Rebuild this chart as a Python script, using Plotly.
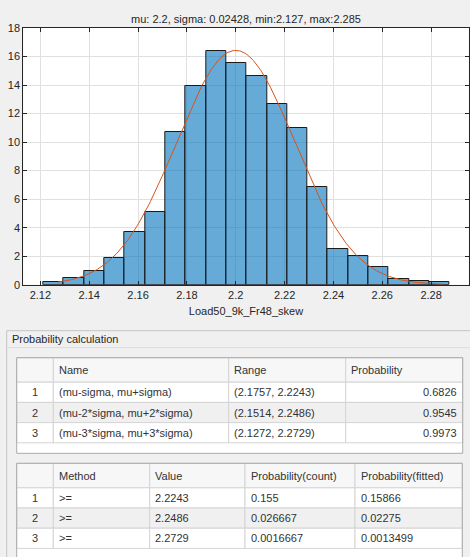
import numpy as np
import plotly.graph_objects as go

# ---------------- data ----------------
title_text = "mu: 2.2, sigma: 0.02428, min:2.127, max:2.285"
x_label = "Load50_9k_Fr48_skew"
mu = 2.2
sigma = 0.02428
data_min = 2.127
data_max = 2.285
bin_start = 2.1212
bin_width = 0.00832
density = [0.21, 0.47, 0.93, 1.87, 3.67, 5.10, 10.69, 13.91, 16.41, 15.53,
           14.61, 12.67, 10.97, 6.83, 2.52, 2.04, 1.26, 0.42, 0.26, 0.21]
x_ticks = [2.12, 2.14, 2.16, 2.18, 2.20, 2.22, 2.24, 2.26, 2.28]
x_ticklabels = ["2.12", "2.14", "2.16", "2.18", "2.2", "2.22", "2.24", "2.26", "2.28"]
y_ticks = [0, 2, 4, 6, 8, 10, 12, 14, 16, 18]

panel_title = "Probability calculation"
t1_header = ["", "Name", "Range", "Probability"]
t1_index = ["1", "2", "3"]
t1_names = ["(mu-sigma, mu+sigma)", "(mu-2*sigma, mu+2*sigma)", "(mu-3*sigma, mu+3*sigma)"]
t1_ranges = ["(2.1757, 2.2243)", "(2.1514, 2.2486)", "(2.1272, 2.2729)"]
t1_probs = ["0.6826", "0.9545", "0.9973"]

t2_header = ["", "Method", "Value", "Probability(count)", "Probability(fitted)"]
t2_index = ["1", "2", "3"]
t2_methods = [">=", ">=", ">="]
t2_values = ["2.2243", "2.2486", "2.2729"]
t2_pcount = ["0.155", "0.026667", "0.0016667"]
t2_pfit = ["0.15866", "0.02275", "0.0013499"]

# ---------------- layout helpers ----------------
W, H = 470, 557
def px(x):
    return x / W
def py(y):
    return 1 - y / H

FONT = "Liberation Sans, Arial, Helvetica, sans-serif"
TXT = "#262626"
CELL_TXT = "#333333"

bin_centers = [bin_start + bin_width * (i + 0.5) for i in range(len(density))]
xf = np.linspace(data_min, data_max, 300)
yf = np.exp(-0.5 * ((xf - mu) / sigma) ** 2) / (sigma * np.sqrt(2 * np.pi))

fig = go.Figure()
fig.add_trace(go.Bar(
    x=bin_centers, y=density, width=bin_width,
    marker=dict(color="rgba(0,114,189,0.6)", line=dict(color="#1a1a1a", width=1)),
    showlegend=False, hoverinfo="x+y",
))
fig.add_trace(go.Scatter(
    x=xf, y=yf, mode="lines", line=dict(color="#D95319", width=1),
    showlegend=False,
))

shapes = [
    # panel
    dict(type="rect", xref="paper", yref="paper", x0=px(6.7), x1=px(480), y0=py(570), y1=py(330.7),
         line=dict(color="#c4c4c4", width=1), fillcolor="#f0f0f0", layer="below"),
    dict(type="line", xref="paper", yref="paper", x0=px(6.7), x1=px(480), y0=py(347.7), y1=py(347.7),
         line=dict(color="#dcdcdc", width=1), layer="below"),
]
annotations = [
    dict(text=panel_title, xref="paper", yref="paper", x=px(9.5), y=py(339.3),
         xanchor="left", yanchor="middle", showarrow=False,
         font=dict(family=FONT, size=11, color=TXT)),
]

ROW_FILL = ["#ffffff", "#f0f0f0", "#ffffff"]
GRID = "#d4d4d4"
OUTER = "#ababab"


def draw_table(left, top, bottom, col_widths, header, columns, aligns,
               header_h=24.5, row_h=20.2):
    right = left + sum(col_widths)
    # white table body with outer border
    shapes.append(dict(type="rect", xref="paper", yref="paper",
                       x0=px(left), x1=px(right), y0=py(bottom), y1=py(top),
                       line=dict(width=0), fillcolor="#ffffff", layer="below"))
    xs = [left]
    for w in col_widths:
        xs.append(xs[-1] + w)
    # header
    for j, h in enumerate(header):
        shapes.append(dict(type="rect", xref="paper", yref="paper",
                           x0=px(xs[j]), x1=px(xs[j + 1]), y0=py(top + header_h), y1=py(top),
                           line=dict(color=GRID, width=1), fillcolor="#f7f7f7", layer="below"))
        if h:
            annotations.append(dict(text=h, xref="paper", yref="paper",
                                    x=px(xs[j] + 3.5), y=py(top + header_h / 2),
                                    xanchor="left", yanchor="middle", showarrow=False,
                                    font=dict(family=FONT, size=11, color=CELL_TXT)))
    # body
    n_rows = len(columns[0])
    for i in range(n_rows):
        y0 = top + header_h + i * row_h
        for j, col in enumerate(columns):
            shapes.append(dict(type="rect", xref="paper", yref="paper",
                               x0=px(xs[j]), x1=px(xs[j + 1]), y0=py(y0 + row_h), y1=py(y0),
                               line=dict(color=GRID, width=1), fillcolor=ROW_FILL[i % 3],
                               layer="below"))
            a = aligns[j]
            if a == "center":
                xt = (xs[j] + xs[j + 1]) / 2
            elif a == "right":
                xt = xs[j + 1] - 3.5
            else:
                xt = xs[j] + 3.5
            annotations.append(dict(text=col[i].replace(">", "&gt;"), xref="paper", yref="paper",
                                    x=px(xt), y=py(y0 + row_h / 2),
                                    xanchor=a, yanchor="middle", showarrow=False,
                                    font=dict(family=FONT, size=11, color=CELL_TXT)))
    # outer border
    shapes.append(dict(type="rect", xref="paper", yref="paper",
                       x0=px(left), x1=px(right), y0=py(bottom), y1=py(top),
                       line=dict(color=OUTER, width=1), fillcolor="rgba(0,0,0,0)", layer="below"))


draw_table(16.7, 357.7, 453.3, [36.6, 175.4, 117, 117], t1_header,
           [t1_index, t1_names, t1_ranges, t1_probs],
           ["center", "left", "left", "right"])
draw_table(16.7, 463.3, 570, [36.6, 96.4, 95.3, 110, 107.3], t2_header,
           [t2_index, t2_methods, t2_values, t2_pcount, t2_pfit],
           ["center", "left", "left", "left", "left"])

fig.update_layout(
    template="none",
    width=W, height=H,
    margin=dict(l=0, r=0, t=0, b=0, pad=0),
    paper_bgcolor="#f0f0f0", plot_bgcolor="#ffffff",
    font=dict(family=FONT, size=11, color=TXT),
    bargap=0,
    title=dict(text=title_text, x=px(246), y=py(19), xanchor="center", yanchor="middle",
               xref="paper", yref="container", automargin=False,
               font=dict(family=FONT, size=11, color=TXT)),
    xaxis=dict(domain=[px(23.3), px(468.7)], range=[2.1130, 2.2954], automargin=False,
               tickvals=x_ticks, ticktext=x_ticklabels,
               showline=True, linecolor="#262626", linewidth=1, mirror="ticks",
               ticks="inside", ticklen=4, tickcolor="#262626", tickwidth=1,
               showgrid=True, gridcolor="#e0e0e0", gridwidth=1, zeroline=False,
               title=dict(text=x_label, standoff=7, font=dict(family=FONT, size=11, color=TXT)),
               tickfont=dict(family=FONT, size=11, color=TXT)),
    yaxis=dict(domain=[py(284.7), py(28)], range=[0, 18], tickvals=y_ticks, automargin=False,
               showline=True, linecolor="#262626", linewidth=1, mirror="ticks",
               ticks="inside", ticklen=4, tickcolor="#262626", tickwidth=1,
               showgrid=True, gridcolor="#e0e0e0", gridwidth=1, zeroline=False,
               tickfont=dict(family=FONT, size=11, color=TXT)),
    shapes=shapes,
    annotations=annotations,
)

fig.write_html(
    "out.html",
    config={"displayModeBar": False},
    post_script="document.body.style.margin='0';document.body.style.overflow='hidden';"
                "document.body.style.background='#f0f0f0';",
)
